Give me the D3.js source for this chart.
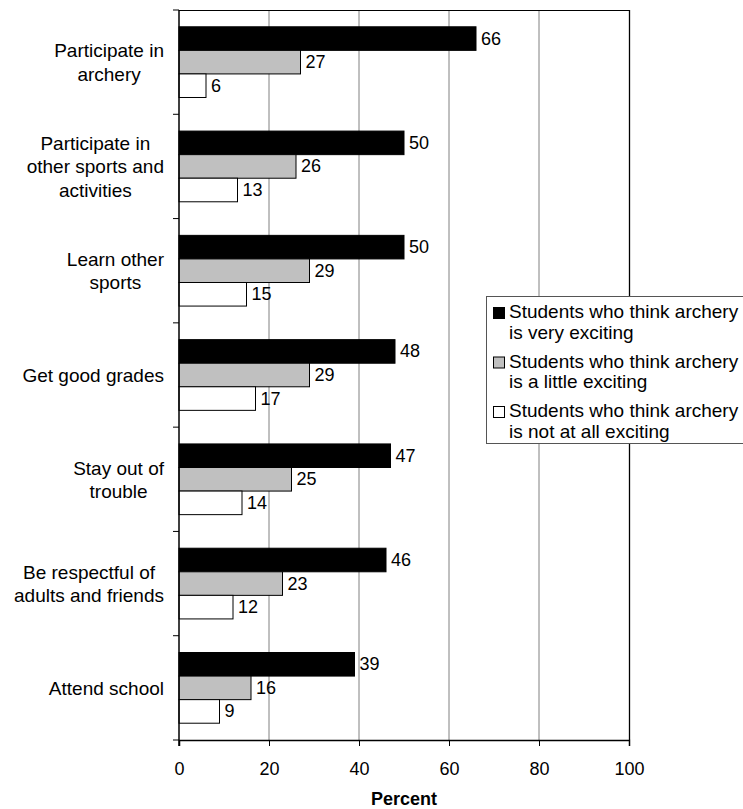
<!DOCTYPE html>
<html>
<head>
<meta charset="utf-8">
<script src="https://cdn.jsdelivr.net/npm/d3@7"></script>
<style>
  html, body { margin: 0; padding: 0; background: #fff; }
  svg { display: block; font-family: "Liberation Sans", Arial, sans-serif; }
</style>
</head>
<body>
<svg id="chart" width="743" height="809"></svg>
<script>
// Activity categories (label lines for the wrapped axis text)
const categories = [
  ["Participate in", "archery"],
  ["Participate in", "other sports and", "activities"],
  ["Learn other", "sports"],
  ["Get good grades"],
  ["Stay out of", "trouble"],
  ["Be respectful of", "adults and friends"],
  ["Attend school"]
];

// Percent of students in each group
const veryExciting   = [66, 50, 50, 48, 47, 46, 39];
const littleExciting = [27, 26, 29, 29, 25, 23, 16];
const notExciting    = [6, 13, 15, 17, 14, 12, 9];

const seriesNames = [
  ["Students who think archery", "is very exciting"],
  ["Students who think archery", "is a little exciting"],
  ["Students who think archery", "is not at all exciting"]
];
const seriesFills = ["#000000", "#c0c0c0", "#ffffff"];

const xTicks = [0, 20, 40, 60, 80, 100];
const xTitle = "Percent";

const svg = d3.select("#chart");
const plotLeft = 179, plotRight = 629, plotTop = 10, plotBottom = 740;

const x = d3.scaleLinear().domain([0, 100]).range([plotLeft, plotRight]);
const y = d3.scaleBand()
  .domain(d3.range(categories.length))
  .range([plotTop, plotBottom])
  .paddingInner(0.322)
  .paddingOuter(0.161);
const sub = d3.scaleBand().domain([0, 1, 2]).range([0, y.bandwidth()]);
const step = y.step();

// Vertical gridlines
svg.append("g")
  .selectAll("line")
  .data(xTicks.filter(t => t > 0 && t < 100))
  .join("line")
  .attr("x1", d => x(d)).attr("x2", d => x(d))
  .attr("y1", plotTop).attr("y2", plotBottom)
  .attr("stroke", "#808080").attr("stroke-width", 1);

// Plot frame: top and right borders
svg.append("line")
  .attr("x1", plotLeft).attr("x2", plotRight).attr("y1", plotTop + 0.5).attr("y2", plotTop + 0.5)
  .attr("stroke", "#000");
svg.append("line")
  .attr("x1", plotRight + 0.5).attr("x2", plotRight + 0.5).attr("y1", plotTop).attr("y2", plotBottom)
  .attr("stroke", "#000").attr("stroke-width", 1.3);

// Bars
const series = [veryExciting, littleExciting, notExciting];
const rows = [];
series.forEach((vals, s) => vals.forEach((v, i) => rows.push({ s, i, v })));

const barG = svg.append("g");
barG.selectAll("rect")
  .data(rows)
  .join("rect")
  .attr("x", x(0))
  .attr("y", d => y(d.i) + sub(d.s))
  .attr("width", d => x(d.v) - x(0))
  .attr("height", sub.bandwidth())
  .attr("fill", d => seriesFills[d.s])
  .attr("stroke", "#000")
  .attr("stroke-width", 1);

// Value labels
barG.selectAll("text")
  .data(rows)
  .join("text")
  .attr("x", d => x(d.v) + 5)
  .attr("y", d => y(d.i) + sub(d.s) + sub.bandwidth() / 2)
  .attr("dy", "0.33em")
  .attr("font-size", 18)
  .attr("fill", "#000")
  .text(d => d.v);

// Bottom axis
const xAxis = svg.append("g")
  .attr("transform", `translate(0,${plotBottom})`)
  .call(d3.axisBottom(x).tickValues(xTicks).tickSize(6).tickPadding(16));
xAxis.select(".domain").attr("stroke", "#000").attr("stroke-width", 1.5);
xAxis.selectAll(".tick line").attr("stroke", "#000");
xAxis.selectAll(".tick text")
  .attr("font-size", 18).attr("font-family", "Liberation Sans, Arial, sans-serif").attr("fill", "#000");

// Left axis with ticks at category boundaries
const yAxisG = svg.append("g");
yAxisG.append("line")
  .attr("x1", plotLeft).attr("x2", plotLeft).attr("y1", plotTop).attr("y2", plotBottom + 6)
  .attr("stroke", "#000").attr("stroke-width", 1.5);
yAxisG.selectAll("line.tk")
  .data(d3.range(categories.length + 1))
  .join("line")
  .attr("class", "tk")
  .attr("x1", plotLeft - 6).attr("x2", plotLeft)
  .attr("y1", i => plotTop + i * step).attr("y2", i => plotTop + i * step)
  .attr("stroke", "#000");

// Category labels: centered lines, block right-aligned to the axis
const lineH = 23.5;
categories.forEach((lines, i) => {
  const g = svg.append("g");
  const cy = y(i) + y.bandwidth() / 2;
  const t = g.append("text")
    .attr("font-size", 19)
    .attr("fill", "#000")
    .attr("text-anchor", "middle");
  lines.forEach((ln, k) => {
    t.append("tspan")
      .attr("x", 0)
      .attr("y", cy + 7 + (k - (lines.length - 1) / 2) * lineH)
      .text(ln);
  });
  const w = d3.max(t.selectAll("tspan").nodes(), n => n.getComputedTextLength());
  t.attr("transform", `translate(${164 - w / 2},0)`);
});

// Axis title
svg.append("text")
  .attr("x", (plotLeft + plotRight) / 2)
  .attr("y", 805)
  .attr("text-anchor", "middle")
  .attr("font-size", 18)
  .attr("font-weight", "bold")
  .attr("fill", "#000")
  .text(xTitle);

// Legend
const lg = svg.append("g").attr("transform", "translate(486,296)");
lg.append("rect")
  .attr("x", 0.5).attr("y", 0.5).attr("width", 270).attr("height", 147)
  .attr("fill", "#fff").attr("stroke", "#555").attr("stroke-width", 1);
seriesNames.forEach((lines, s) => {
  const by = 22 + s * 49.5;
  lg.append("rect")
    .attr("x", 7.5).attr("y", by - 10.5).attr("width", 11).attr("height", 11)
    .attr("fill", seriesFills[s]).attr("stroke", "#000").attr("stroke-width", 1);
  const t = lg.append("text").attr("font-size", 19).attr("fill", "#000");
  lines.forEach((ln, k) => {
    t.append("tspan").attr("x", 23).attr("y", by + k * 20.6).text(ln);
  });
});
</script>
</body>
</html>
